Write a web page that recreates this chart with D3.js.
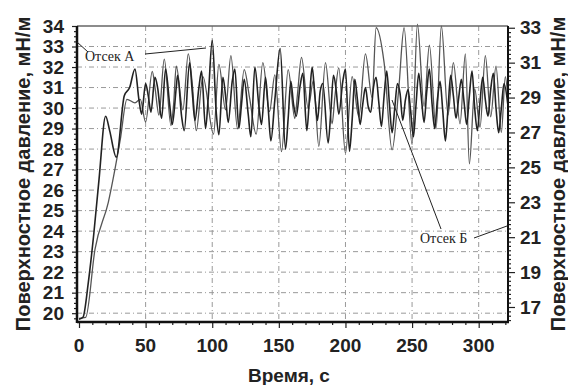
<!DOCTYPE html>
<html>
<head>
<meta charset="utf-8">
<script src="https://cdn.jsdelivr.net/npm/d3@7"></script>
<style>
  body { margin: 0; background: #fff; }
  .tickLabel { font-family: "Liberation Sans", Arial, sans-serif; font-weight: bold; font-size: 19px; fill: #222; }
  .axisTitle { font-family: "Liberation Sans", Arial, sans-serif; font-weight: bold; font-size: 20px; fill: #222; }
  .note { font-family: "Liberation Serif", "Times New Roman", serif; font-size: 14px; fill: #222; }
</style>
</head>
<body>
<div id="chart"></div>
<script>
// Отсек А (левая ось)
var timeA = [0, 3, 7, 11, 15, 20, 23, 28, 34, 38, 42, 45, 47, 50, 52, 54, 57, 59, 62, 65, 68, 70, 73, 74,
    77, 79, 83, 85, 87, 90, 92, 95, 97, 100, 103, 105, 108, 110, 112, 115, 117, 120, 122, 124, 127, 129,
    132, 135, 137, 140, 142, 144, 147, 151, 155, 157, 159, 161, 163, 166, 168, 171, 173, 175, 177, 179,
    181, 183, 187, 189, 191, 193, 195, 198, 200, 203, 205, 207, 209, 211, 213, 215, 217, 219, 221, 223,
    225, 227, 229, 231, 233, 235, 237, 239, 241, 243, 245, 247, 249, 251, 253, 255, 257, 259, 261, 263,
    265, 267, 269, 271, 273, 275, 277, 279, 281, 283, 285, 287, 289, 291, 293, 295, 297, 299, 301, 303,
    305, 307, 309, 311, 313, 315, 317, 319, 322];
var valueA = [19.7, 19.8, 21.5, 23.8, 26.5, 29.6, 28.9, 27.6, 30.6, 31.0, 31.9, 30.4, 29.7, 31.2, 30.6,
    29.8, 31.5, 31.0, 29.5, 31.9, 30.2, 29.2, 31.0, 31.6, 29.6, 28.9, 32.2, 30.8, 29.4, 31.0, 31.8, 29.0,
    30.5, 33.3, 29.8, 28.7, 31.5, 30.6, 29.3, 31.3, 31.9, 29.0, 30.2, 31.4, 29.7, 28.6, 32.0, 30.1, 29.2,
    31.5, 30.0, 28.4, 30.4, 32.9, 28.0, 29.5, 31.3, 30.2, 29.6, 31.1, 31.7, 28.9, 30.5, 32.0, 30.6, 29.4,
    30.8, 31.2, 28.3, 29.8, 31.6, 30.9, 29.7, 31.3, 31.9, 27.9, 29.4, 31.4, 30.4, 29.2, 30.2, 31.0, 30.1,
    29.8, 31.0, 31.5, 30.3, 29.1, 30.6, 31.8, 30.2, 28.8, 30.0, 31.2, 30.7, 29.4, 30.4, 30.9, 29.8, 28.6,
    30.2, 31.7, 30.5, 29.3, 30.8, 31.9, 30.2, 29.0, 30.4, 31.3, 29.9, 28.4, 30.0, 31.6, 30.6, 29.5, 30.5,
    31.4, 30.3, 29.2, 30.6, 31.8, 30.0, 28.9, 30.3, 31.5, 30.4, 29.6, 30.9, 31.7, 30.0, 28.8, 30.0, 31.2,
    30.1];

// Отсек Б (правая ось)
var timeB = [0, 5, 12, 22, 31, 36, 42, 46, 50, 55, 57, 60, 64, 69, 71, 73, 78, 82, 85, 88, 93, 101, 105,
    110, 114, 119, 124, 128, 133, 138, 143, 147, 152, 157, 162, 164, 167, 172, 176, 180, 185, 190, 192,
    195, 200, 205, 210, 215, 220, 223, 229, 235, 240, 244, 250, 254, 259, 263, 268, 272, 277, 281, 286,
    290, 293, 297, 301, 305, 309, 313, 317, 320, 322];
var valueB = [16.35, 16.4, 20.3, 23.0, 26.6, 28.9, 28.7, 28.9, 27.6, 30.5, 29.6, 28.0, 31.2, 27.4, 28.6,
    30.8, 28.3, 31.5, 29.8, 27.1, 30.2, 26.9, 30.9, 28.3, 31.4, 27.2, 30.6, 29.0, 26.9, 31.0, 28.2, 30.3,
    25.9, 30.6, 27.8, 29.2, 31.3, 28.4, 30.0, 26.2, 31.0, 27.5, 29.0, 30.7, 25.8, 30.2, 27.9, 31.5, 29.0,
    33.0, 31.0, 26.0, 29.5, 33.0, 26.3, 33.2, 28.5, 32.0, 27.2, 33.1, 28.0, 31.0, 27.5, 31.5, 25.2, 29.5,
    27.3, 31.4, 27.9, 30.8, 27.0, 30.2, 28.8];

var xTicks = [0, 50, 100, 150, 200, 250, 300];
var leftTicks = [20, 21, 22, 23, 24, 25, 26, 27, 28, 29, 30, 31, 32, 33, 34];
var rightTicks = [17, 19, 21, 23, 25, 27, 29, 31, 33];

var svgW = 568;
var svgH = 385;

var svg = d3.select("#chart")
    .append("svg")
    .attr("width", svgW)
    .attr("height", svgH);

var xScale = d3.scaleLinear().domain([-1.5, 322]).range([77, 508]);
var yLeft = d3.scaleLinear().domain([19.57, 34.0]).range([322, 26]);
var yRight = d3.scaleLinear().domain([16.14, 33.1]).range([322, 26]);

var plotL = 77, plotR = 508, plotT = 26, plotB = 322;

// grid
var gridG = svg.append("g")
    .attr("stroke", "#999")
    .attr("stroke-width", 1)
    .attr("stroke-dasharray", "5,3,1,3");

gridG.selectAll(".hg")
    .data(leftTicks.filter(function(d) { return d < 34; }))
    .enter()
    .append("line")
    .attr("x1", plotL)
    .attr("x2", plotR)
    .attr("y1", function(d) { return yLeft(d) })
    .attr("y2", function(d) { return yLeft(d) });

gridG.selectAll(".vg")
    .data(xTicks.filter(function(d) { return d > 0; }))
    .enter()
    .append("line")
    .attr("y1", plotT)
    .attr("y2", plotB)
    .attr("x1", function(d) { return xScale(d) })
    .attr("x2", function(d) { return xScale(d) });

// data lines
var lineA = d3.line()
    .x(function(d, i) { return xScale(timeA[i]) })
    .y(function(d) { return yLeft(d) })
    .curve(d3.curveMonotoneX);

var lineB = d3.line()
    .x(function(d, i) { return xScale(timeB[i]) })
    .y(function(d) { return yRight(d) })
    .curve(d3.curveMonotoneX);

svg.append("path")
    .datum(valueB)
    .attr("d", lineB)
    .attr("fill", "none")
    .attr("stroke", "#555")
    .attr("stroke-width", 1.3);

svg.append("path")
    .datum(valueA)
    .attr("d", lineA)
    .attr("fill", "none")
    .attr("stroke", "#222")
    .attr("stroke-width", 1.6);

// frame
svg.append("line")
    .attr("x1", plotL).attr("x2", plotR)
    .attr("y1", plotT).attr("y2", plotT)
    .attr("stroke", "#666").attr("stroke-width", 1.5);

// axes
var bAxis = d3.axisBottom(xScale)
    .tickValues(d3.range(0, 321, 10))
    .tickSize(4)
    .tickFormat("");

var xAxis = svg.append("g")
    .attr("transform", `translate(0, ${plotB})`)
    .call(bAxis);

xAxis.selectAll(".tick line")
    .attr("y2", function(d) { return d % 50 == 0 ? 6 : 3 });

var lAxis = d3.axisLeft(yLeft)
    .tickValues(d3.range(19.75, 34.01, 0.25))
    .tickSize(3)
    .tickFormat("");

var yAxisL = svg.append("g")
    .attr("transform", `translate(${plotL}, 0)`)
    .call(lAxis);

yAxisL.selectAll(".tick line")
    .attr("x2", function(d) { return Math.abs(d - Math.round(d)) < 0.01 ? -5 : -3 });

var rAxis = d3.axisRight(yRight)
    .tickValues(d3.range(16.25, 33.01, 0.25))
    .tickSize(3)
    .tickFormat("");

var yAxisR = svg.append("g")
    .attr("transform", `translate(${plotR}, 0)`)
    .call(rAxis);

yAxisR.selectAll(".tick line")
    .attr("x2", function(d) {
        var r = Math.round(d);
        return (Math.abs(d - r) < 0.01 && r % 2 == 1) ? 7 : 3;
    });

[xAxis, yAxisL, yAxisR].forEach(function(g) {
    g.select(".domain").remove();
    g.selectAll(".tick line").attr("stroke", "#222").attr("stroke-width", 1.2);
});

svg.append("line")
    .attr("x1", plotL).attr("x2", plotL)
    .attr("y1", plotT).attr("y2", plotB + 1)
    .attr("stroke", "#111").attr("stroke-width", 2.5);

svg.append("line")
    .attr("x1", plotL).attr("x2", plotR + 1)
    .attr("y1", plotB).attr("y2", plotB)
    .attr("stroke", "#111").attr("stroke-width", 2.5);

svg.append("line")
    .attr("x1", plotR).attr("x2", plotR)
    .attr("y1", plotT).attr("y2", plotB + 1)
    .attr("stroke", "#111").attr("stroke-width", 2);

// tick labels
svg.append("g")
    .selectAll("text")
    .data(xTicks)
    .enter()
    .append("text")
    .attr("class", "tickLabel")
    .attr("x", function(d) { return xScale(d) })
    .attr("y", 352)
    .attr("text-anchor", "middle")
    .text(function(d) { return d });

svg.append("g")
    .selectAll("text")
    .data(leftTicks)
    .enter()
    .append("text")
    .attr("class", "tickLabel")
    .attr("x", 64)
    .attr("y", function(d) { return yLeft(d) })
    .attr("dy", "0.35em")
    .attr("text-anchor", "end")
    .text(function(d) { return d });

svg.append("g")
    .selectAll("text")
    .data(rightTicks)
    .enter()
    .append("text")
    .attr("class", "tickLabel")
    .attr("x", 520)
    .attr("y", function(d) { return yRight(d) })
    .attr("dy", "0.35em")
    .attr("text-anchor", "start")
    .text(function(d) { return d });

// axis titles
svg.append("text")
    .attr("class", "axisTitle")
    .attr("transform", "translate(30, 174) rotate(-90)")
    .attr("text-anchor", "middle")
    .text("Поверхностное давление, мН/м");

svg.append("text")
    .attr("class", "axisTitle")
    .attr("transform", "translate(565, 174) rotate(-90)")
    .attr("text-anchor", "middle")
    .text("Поверхностное давление, мН/м");

svg.append("text")
    .attr("class", "axisTitle")
    .attr("x", 289)
    .attr("y", 382)
    .attr("text-anchor", "middle")
    .style("font-size", "19px")
    .text("Время, с");

// annotations
var noteG = svg.append("g")
    .attr("stroke", "#222")
    .attr("stroke-width", 1);

noteG.append("line").attr("x1", 77).attr("y1", 42).attr("x2", 88).attr("y2", 52);
noteG.append("line").attr("x1", 145).attr("y1", 54).attr("x2", 206).attr("y2", 48);
noteG.append("line").attr("x1", 441).attr("y1", 229).attr("x2", 392).attr("y2", 100);
noteG.append("line").attr("x1", 474).attr("y1", 238).attr("x2", 507).attr("y2", 226);

svg.append("text")
    .attr("class", "note")
    .attr("x", 85)
    .attr("y", 61)
    .text("Отсек А");

svg.append("text")
    .attr("class", "note")
    .attr("x", 420)
    .attr("y", 243)
    .text("Отсек Б");
</script>
</body>
</html>
